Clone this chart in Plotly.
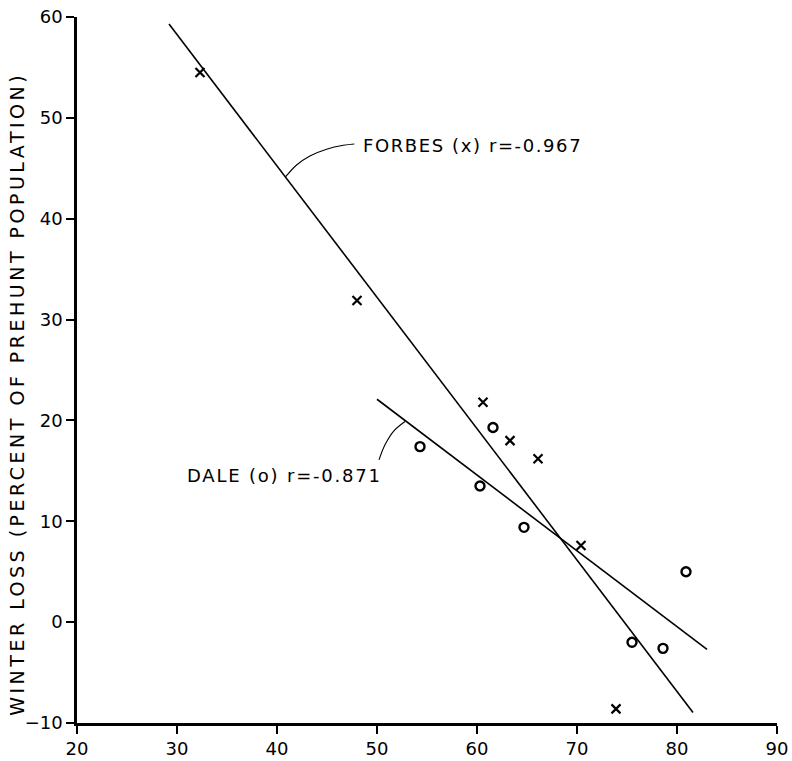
import plotly.graph_objects as go

# Forbes data (x markers)
forbes_x = [32.3, 48.0, 60.6, 63.3, 66.1, 70.4, 73.9]
forbes_y = [54.5, 31.9, 21.8, 18.0, 16.2, 7.6, -8.6]

# Dale data (o markers)
dale_x = [54.3, 61.6, 60.3, 64.7, 80.9, 75.5, 78.6]
dale_y = [17.4, 19.3, 13.5, 9.4, 5.0, -2.0, -2.6]

# Regression line end points
forbes_fit_x = [29.2, 81.6]
forbes_fit_y = [59.3, -8.95]
dale_fit_x = [50.0, 83.0]
dale_fit_y = [22.1, -2.7]

# Leader curves for labels
forbes_lead_x = [40.87, 41.96, 43.29, 44.96, 46.63, 47.73]
forbes_lead_y = [44.17, 45.33, 46.22, 46.89, 47.28, 47.41]
dale_lead_x = [52.80, 51.63, 50.80, 50.20]
dale_lead_y = [19.89, 18.90, 17.58, 16.09]

forbes_label = "FORBES (x) r=-0.967"
dale_label = "DALE (o) r=-0.871"
y_title = "WINTER LOSS (PERCENT OF PREHUNT POPULATION)"
x_ticks = [20, 30, 40, 50, 60, 70, 80, 90]
y_ticks = [-10, 0, 10, 20, 30, 40, 50, 60]

FONT = "DejaVu Sans"


def spaced(t, px):
    return '<span style="letter-spacing:%spx">%s</span>' % (px, t)


fig = go.Figure()
fig.add_trace(go.Scatter(x=forbes_fit_x, y=forbes_fit_y, mode="lines",
                         line=dict(color="black", width=1.6), showlegend=False))
fig.add_trace(go.Scatter(x=dale_fit_x, y=dale_fit_y, mode="lines",
                         line=dict(color="black", width=1.6), showlegend=False))
fig.add_trace(go.Scatter(x=forbes_lead_x, y=forbes_lead_y, mode="lines",
                         line=dict(color="black", width=1.1, shape="spline"), showlegend=False))
fig.add_trace(go.Scatter(x=dale_lead_x, y=dale_lead_y, mode="lines",
                         line=dict(color="black", width=1.1, shape="spline"), showlegend=False))
fig.add_trace(go.Scatter(x=forbes_x, y=forbes_y, mode="markers",
                         marker=dict(symbol="x-thin", size=9, line=dict(color="black", width=2.2)),
                         showlegend=False))
fig.add_trace(go.Scatter(x=dale_x, y=dale_y, mode="markers",
                         marker=dict(symbol="circle-open", size=9, color="black",
                                     line=dict(color="black", width=2.4)),
                         showlegend=False))

fig.add_annotation(x=48.4, y=47.3, text=spaced(forbes_label, 1.6),
                   showarrow=False, xanchor="left", yanchor="middle",
                   font=dict(family=FONT, size=18, color="black"))
fig.add_annotation(x=50.7, y=14.5, text=spaced(dale_label, 1.8),
                   showarrow=False, xanchor="right", yanchor="middle",
                   font=dict(family=FONT, size=18, color="black"))
fig.add_annotation(xref="paper", yref="paper", x=-0.086, y=0.466, text=spaced(y_title, 3.5),
                   textangle=-90, showarrow=False, xanchor="center", yanchor="middle",
                   font=dict(family=FONT, size=19, color="black"))

fig.update_layout(
    width=792, height=761,
    margin=dict(l=77, r=15, t=17, b=38, autoexpand=False),
    paper_bgcolor="white", plot_bgcolor="white",
    font=dict(family=FONT, size=18, color="black"),
)
fig.update_xaxes(range=[20, 90], tickvals=x_ticks, ticktext=[str(v) for v in x_ticks],
                 automargin=False,
                 showgrid=False, zeroline=False, showline=True, linecolor="black",
                 linewidth=2.5, ticks="outside", ticklen=8, tickwidth=2, tickcolor="black",
                 tickfont=dict(family=FONT, size=18))
fig.update_yaxes(range=[-10, 60], tickvals=y_ticks,
                 ticktext=[("\u2212" + str(-v)) if v < 0 else str(v) for v in y_ticks],
                 automargin=False,
                 showgrid=False, zeroline=False, showline=True, linecolor="black",
                 linewidth=2.5, ticks="outside", ticklen=8, tickwidth=2, tickcolor="black",
                 tickfont=dict(family=FONT, size=18))

fig.write_html("out.html")
